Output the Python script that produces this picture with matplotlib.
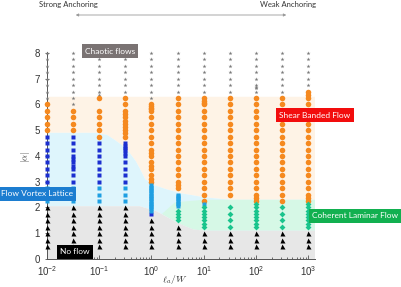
import numpy as np
import matplotlib
matplotlib.use("Agg")
import matplotlib.pyplot as plt
from matplotlib.patches import FancyArrowPatch

# --- data: columns of l_a/W and the |alpha| values of each flow state ---
lw_vals = [0.01, 0.0316, 0.1, 0.316, 1.0, 3.16, 10.0, 31.6, 100.0, 316.0, 1000.0]

alpha_chaotic = [
    [6.25, 6.5, 6.75, 7.0, 7.25, 7.5, 7.75, 8.0],
    [6.0, 6.25, 6.5, 6.75, 7.0, 7.25, 7.5, 7.75, 8.0],
    [6.25, 6.375, 6.5, 6.75, 7.0, 7.25, 7.5, 7.75, 8.0],
    [6.5, 6.75, 7.0, 7.25, 7.5, 7.75, 8.0],
    [6.25, 6.5, 6.75, 7.0, 7.25, 7.5, 7.75, 8.0],
    [6.5, 6.75, 7.0, 7.25, 7.5, 7.75, 8.0],
    [6.5, 6.75, 7.0, 7.25, 7.5, 7.75, 8.0],
    [6.5, 6.75, 7.0, 7.25, 7.5, 7.75, 8.0],
    [6.5, 6.625, 6.6875, 6.75, 7.0, 7.25, 7.5, 7.75, 8.0],
    [6.5, 6.75, 7.0, 7.25, 7.5, 7.75, 8.0],
    [6.75, 7.0, 7.25, 7.5, 7.75, 8.0],
]

alpha_shear = [
    [5.0, 5.25, 5.5, 5.75, 6.0],
    [5.0, 5.25, 5.5, 5.75],
    [4.75, 5.0, 5.25, 5.5, 5.75, 6.25],
    [4.75, 4.875, 5.0, 5.125, 5.25, 5.375, 5.5, 5.625, 5.75, 6.0, 6.25],
    [3.0, 3.125, 3.25, 3.5, 3.625, 3.75, 4.0, 4.125, 4.25, 4.5, 4.75, 5.0,
     5.25, 5.5, 5.75, 5.8125, 5.875, 5.9375, 6.0],
    [2.75, 2.875, 3.0, 3.25, 3.5, 3.75, 4.0, 4.25, 4.5, 4.75, 5.0, 5.25,
     5.5, 5.75, 6.0, 6.25],
    [2.25, 2.5, 2.75, 3.0, 3.25, 3.5, 3.75, 4.0, 4.25, 4.5, 4.75, 5.0,
     5.25, 5.5, 5.75, 6.0, 6.0625, 6.125, 6.25],
    [2.5, 2.75, 3.0, 3.25, 3.5, 3.75, 4.0, 4.25, 4.5, 4.75, 5.0, 5.25,
     5.5, 5.75, 6.0, 6.25],
    [2.25, 2.375, 2.5, 2.75, 3.0, 3.25, 3.5, 3.75, 4.0, 4.25, 4.5, 4.75,
     5.0, 5.25, 5.5, 5.75, 6.0, 6.25],
    [2.25, 2.5, 2.75, 3.0, 3.25, 3.5, 3.75, 4.0, 4.25, 4.5, 4.75, 5.0,
     5.25, 5.5, 5.75, 6.0, 6.25],
    [2.25, 2.375, 2.5, 2.75, 3.0, 3.25, 3.5, 3.75, 4.0, 4.25, 4.5, 4.75,
     5.0, 5.25, 5.5, 5.75, 6.0, 6.25, 6.375, 6.5],
]

alpha_vortex = [
    [3.0, 3.25, 3.5, 3.75, 4.0, 4.25, 4.5, 4.75],
    [3.0, 3.25, 3.5, 3.625, 3.75, 3.875, 4.0, 4.25, 4.5, 4.75],
    [3.0, 3.25, 3.5, 3.75, 4.0, 4.25, 4.5],
    [3.0, 3.25, 3.5, 3.75, 4.0, 4.125, 4.25, 4.3125, 4.375, 4.5],
    [1.75],
    [], [], [], [], [], [],
]

alpha_vortex_light = [
    [2.25, 2.5, 2.75],
    [2.25, 2.5, 2.75],
    [2.25, 2.5, 2.75],
    [2.25, 2.5, 2.75],
    [1.875, 1.9375, 2.0, 2.0625, 2.125, 2.1875, 2.25, 2.3125, 2.375, 2.4375,
     2.5, 2.5625, 2.625, 2.6875, 2.75, 2.8125, 2.875],
    [2.0625, 2.125, 2.1875, 2.25, 2.3125, 2.375, 2.4375, 2.5],
    [2.125],
    [], [], [], [],
]

alpha_laminar = [
    [], [], [], [], [],
    [1.5, 1.625, 1.75, 1.875],
    [1.25, 1.375, 1.5, 1.625, 1.75, 1.875, 2.0],
    [1.25, 1.5, 1.75, 2.0],
    [1.25, 1.375, 1.5, 1.625, 1.75, 1.875, 2.0, 2.125],
    [1.25, 1.5, 1.75, 2.0],
    [1.25, 1.375, 1.5, 1.625, 1.75, 1.875, 2.0, 2.125],
]

alpha_noflow = [
    [0.5, 0.75, 1.0, 1.25, 1.5, 1.75, 2.0],
    [0.5, 0.75, 1.0, 1.25, 1.5, 1.75, 2.0],
    [0.5, 0.75, 1.0, 1.25, 1.5, 1.75, 2.0],
    [0.5, 0.75, 1.0, 1.25, 1.5, 1.75, 2.0],
    [0.5, 0.75, 1.0, 1.25, 1.5],
    [0.5, 0.75, 1.0, 1.25],
    [0.5, 0.75, 1.0],
    [0.5, 0.75, 1.0],
    [0.5, 0.75, 1.0],
    [0.5, 0.75, 1.0],
    [0.5, 0.75, 1.0],
]

# region boundaries (log10 of l_a/W, |alpha|)
shear_lower = [(-2.0, 4.9), (-1.08, 4.9), (-0.85, 4.82), (-0.70, 4.62),
               (-0.55, 4.4), (-0.41, 4.1), (-0.30, 3.8), (-0.22, 3.5),
               (-0.12, 3.1), (0.01, 2.9), (0.30, 2.7), (0.55, 2.56),
               (1.0, 2.4), (1.51, 2.3), (3.13, 2.3)]
shear_top = 6.3
noflow_top = [(-2.0, 2.05), (-0.22, 2.05), (0.10, 1.85), (0.50, 1.4),
              (0.80, 1.15), (1.0, 1.1), (3.13, 1.1)]
laminar_poly = [(0.2, 1.75), (0.45, 2.2), (1.0, 2.3), (3.13, 2.3),
                (3.13, 1.1), (1.0, 1.1), (0.8, 1.15), (0.5, 1.4)]

X_MIN_LOG, X_MAX_LOG = -2.0, 3.13


def to_data(pts):
    return [10 ** p[0] for p in pts], [p[1] for p in pts]


fig = plt.figure(figsize=(4.01, 2.87), dpi=100)
ax = fig.add_axes([47 / 401, 28 / 287, 268 / 401, 207.3 / 287])
ax.set_xscale("log")

# --- shaded regions ---
xs, ys = to_data(shear_lower)
ax.fill([10 ** X_MIN_LOG, 10 ** X_MAX_LOG] + xs[::-1],
        [shear_top, shear_top] + ys[::-1], color="#fef3e6", lw=0, zorder=0)
gx, gy = to_data(noflow_top)
ax.fill(xs + gx[::-1], ys + gy[::-1], color="#def5fc", lw=0, zorder=0)
lx, ly = to_data(laminar_poly)
ax.fill(lx, ly, color="#d6f8e6", lw=0, zorder=0.5)
ax.fill([10 ** X_MIN_LOG, 10 ** X_MAX_LOG] + gx[::-1], [0, 0] + gy[::-1],
        color="#e7e7e7", lw=0, zorder=0.6)

# --- points ---
styles = [
    (alpha_chaotic, dict(marker="*", ms=3.0, color="#7a7a7a")),
    (alpha_shear, dict(marker="o", ms=4.0, color="#f5891f")),
    (alpha_vortex, dict(marker="s", ms=3.2, color="#1b2fd0")),
    (alpha_vortex_light, dict(marker="s", ms=3.2, color="#1e9fe2")),
    (alpha_laminar, dict(marker="D", ms=3.0, color="#19c48c")),
    (alpha_noflow, dict(marker="^", ms=3.6, color="black")),
]
for series, st in styles:
    for xv, yv in zip(lw_vals, series):
        if not yv:
            continue
        ax.plot([xv] * len(yv), yv, ls="none", mec="none", zorder=3,
                clip_on=False, **st)

ax.set_xlim(10 ** X_MIN_LOG, 10 ** X_MAX_LOG)
ax.set_ylim(0, 8.05)
ax.set_yticks(range(0, 9))
ax.spines["top"].set_visible(False)
ax.spines["right"].set_visible(False)
for s in ("left", "bottom"):
    ax.spines[s].set_color("#555555")
    ax.spines[s].set_linewidth(0.7)
ax.tick_params(axis="both", which="both", direction="in", colors="#555555",
               labelcolor="#333333", labelsize=7, width=0.6)
ax.tick_params(axis="y", length=3, direction="inout")
ax.tick_params(axis="x", which="major", length=3)
ax.tick_params(axis="x", which="minor", length=1.5)
for lab in ax.get_xticklabels() + ax.get_yticklabels():
    lab.set_fontfamily("Liberation Sans")

# axis titles placed where the reference has them
fig.text(175 / 401, 1 - 279 / 287, r"$\ell_a/W$", ha="center", va="center",
         fontsize=7, color="#333333", math_fontfamily="cm")
fig.text(26 / 401, 1 - 157 / 287, r"$|\alpha|$", ha="center", va="center",
         fontsize=6.5, color="#333333", rotation=90, math_fontfamily="cm")

# --- region labels ---
boxes = [
    ("Chaotic flows", 110, 51, "#7a7373"),
    ("Shear Banded Flow", 315, 115, "#f20d0d"),
    ("Flow Vortex Lattice", 37, 194, "#1c7dd0"),
    ("Coherent Laminar Flow", 355, 216, "#12b050"),
    ("No flow", 75, 252, "black"),
]
for txt, px, py, col in boxes:
    fig.text(px / 401, 1 - py / 287, txt, ha="center", va="center",
             fontsize=6.0, color="white", family="Lato", zorder=10,
             bbox=dict(boxstyle="square,pad=0.4", fc=col, ec="none"))

fig.text(68 / 401, 1 - 5 / 287, "Strong Anchoring", ha="center", va="center",
         fontsize=5.5, color="#333333", family="Lato")
fig.text(288 / 401, 1 - 5 / 287, "Weak Anchoring", ha="center", va="center",
         fontsize=5.5, color="#333333", family="Lato")
arr = FancyArrowPatch((73 / 401, 1 - 15 / 287), (289 / 401, 1 - 15 / 287),
                      transform=fig.transFigure,
                      arrowstyle="<|-|>,head_length=1.5,head_width=0.8",
                      color="#999999", lw=0.6)
fig.patches.append(arr)

fig.savefig("out.png", dpi=100)
